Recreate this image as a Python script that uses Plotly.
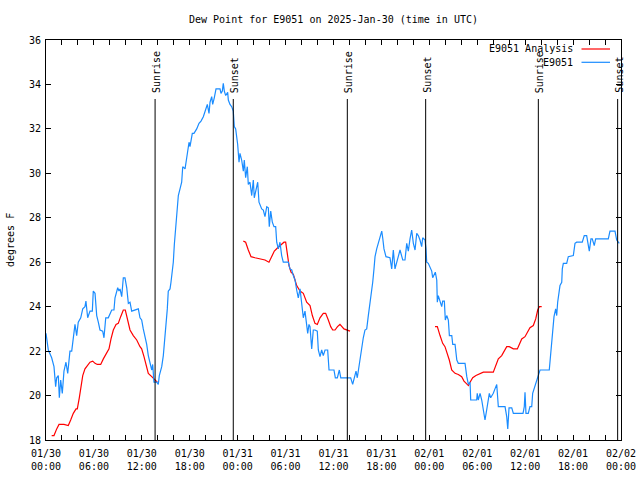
import pandas as pd
import plotly.graph_objects as go

BASE = "2025-01-30 00:00"

# Station observations (hours since 2025-01-30 00:00 UTC, dew point degF)
obs_hours = [0.0, 0.29, 0.71, 1.0, 1.21, 1.34, 1.54, 1.67, 1.84, 2.04, 2.25, 2.5, 2.72, 3.0, 3.22,
             3.42, 3.63, 3.84, 4.04, 4.35, 4.6, 4.88, 5.0, 5.22, 5.51, 5.8, 5.92, 6.14, 6.35, 6.55,
             6.76, 7.1, 7.26, 7.48, 7.8, 8.23, 8.51, 8.64, 8.77, 8.98, 9.14, 9.27, 9.48, 9.68, 9.89,
             10.11, 10.31, 10.52, 10.73, 11.14, 11.56, 11.77, 11.98, 12.18, 12.4, 12.61, 12.81,
             13.02, 13.24, 13.36, 13.52, 13.86, 14.06, 14.19, 14.49, 14.69, 14.9, 15.03, 15.19,
             15.31, 15.53, 15.65, 15.82, 15.94, 16.07, 16.24, 16.44, 16.57, 16.78, 16.99, 17.12,
             17.41, 17.62, 17.82, 17.91, 18.03, 18.32, 18.53, 18.87, 19.16, 19.41, 19.7, 20.0,
             20.2, 20.41, 20.54, 20.75, 20.87, 21.07, 21.29, 21.58, 21.79, 21.91, 22.08, 22.2,
             22.33, 22.5, 22.75, 22.83, 23.04, 23.25, 23.45, 23.58, 23.75, 24.0, 24.17, 24.29,
             24.5, 24.71, 24.83, 25.0, 25.21, 25.33, 25.54, 25.76, 25.96, 26.08, 26.3, 26.51,
             26.67, 27.01, 27.21, 27.42, 27.64, 27.84, 27.96, 28.14, 28.34, 28.55, 28.76, 28.89,
             29.09, 29.3, 29.51, 29.71, 30.14, 30.34, 30.55, 30.77, 30.97, 31.18, 31.39, 31.59,
             31.81, 32.02, 32.22, 32.43, 32.56, 32.77, 32.93, 33.06, 33.27, 33.47, 33.68, 33.97,
             34.1, 34.31, 34.52, 34.72, 34.94, 35.27, 35.44, 36.06, 36.23, 36.48, 36.73, 36.91,
             37.65, 38.15, 38.4, 38.57, 38.82, 38.98, 39.23, 39.41, 39.53, 39.73, 39.94, 40.16,
             40.36, 40.57, 40.78, 40.91, 41.07, 41.2, 41.41, 41.61, 41.82, 42.04, 42.16, 42.32,
             42.57, 42.86, 43.07, 43.29, 43.49, 43.7, 43.92, 44.11, 44.33, 44.67, 44.95, 45.17,
             45.37, 45.58, 45.79, 46.0, 46.21, 46.42, 46.62, 46.83, 47.04, 47.17, 47.46, 47.58,
             47.67, 47.87, 48.08, 48.3, 48.42, 48.62, 48.75, 48.93, 49.0, 49.12, 49.34, 49.55,
             49.67, 49.88, 50.0, 50.18, 50.38, 50.51, 50.81, 50.93, 51.22, 51.44, 51.63, 52.47,
             52.69, 52.89, 53.1, 53.18, 53.93, 54.0, 54.13, 54.35, 54.56, 54.76, 54.97, 55.18,
             55.38, 55.51, 55.68, 56.01, 56.22, 56.44, 56.64, 57.48, 57.69, 57.82, 57.98, 58.32,
             58.52, 59.73, 59.89, 59.98, 60.1, 60.39, 60.6, 60.82, 60.94, 61.23, 61.44, 61.65,
             61.86, 63.02, 63.2, 63.4, 63.61, 63.82, 63.95, 64.07, 64.24, 64.36, 64.58, 64.65,
             64.78, 65.2, 65.4, 66.03, 66.24, 66.45, 67.15, 67.4, 67.7, 67.86, 68.03, 68.24,
             68.4, 68.65, 68.83, 70.41, 70.62, 71.25, 71.46, 71.79]
obs_dewpt = [22.8, 22.05, 21.7, 21.3, 20.4, 20.8, 20.9, 19.9, 20.7, 20.1, 21.1, 21.5, 21.0, 22.0, 22.0,
             22.6, 23.2, 22.7, 23.3, 23.5, 23.9, 24.0, 24.25, 23.5, 23.8, 23.8, 24.7, 24.6, 23.6, 23.3,
             22.95, 22.9, 22.6, 23.5, 23.5, 23.85, 23.85, 24.4, 24.6, 24.85, 24.7, 24.8, 24.45, 25.3, 25.3,
             24.85, 24.15, 24.2, 23.8, 23.85, 23.9, 23.5, 23.4, 23.0, 22.65, 22.3, 21.8,
             21.5, 21.15, 21.4, 20.6, 20.6, 20.5, 20.9, 21.3, 21.8, 22.6, 23.05, 23.9,
             24.7, 24.8, 25.1, 25.7, 26.0, 26.8, 27.6, 28.6, 29.0, 29.3, 29.6, 30.3,
             30.2, 30.7, 31.3, 31.4, 31.2, 31.8, 31.8, 32.0, 32.25, 32.35, 32.55, 32.85,
             33.1, 32.7, 33.2, 33.45, 33.1, 33.4, 33.8, 33.8, 33.8, 33.6, 33.7, 34.05,
             33.7, 33.5, 33.65, 33.3, 33.1, 33.0, 32.8, 32.1, 32.0, 31.3, 30.5, 30.9,
             30.6, 30.1, 30.6, 29.8, 30.3, 29.5, 29.6, 29.0, 29.7, 28.9, 29.3, 29.6,
             28.7, 28.4, 28.35, 28.05, 28.5, 28.45, 27.6, 28.3, 27.8, 27.6, 27.6, 26.9,
             26.6, 26.9, 26.3, 26.0, 26.0, 26.0, 25.7, 25.65, 25.4, 25.2, 24.75, 24.4,
             24.8, 24.2, 23.5, 23.8, 23.3, 22.8, 23.2, 23.1, 22.1, 22.95, 22.95, 22.9,
             22.05, 21.75, 22.05, 21.8, 22.05, 22.05, 21.15, 21.15, 20.8, 20.8, 21.15, 20.8,
             20.8, 20.8, 20.5, 20.8, 21.1, 20.8, 21.45, 21.9, 22.2, 22.6, 22.95, 23.0,
             23.6, 24.1, 24.7, 25.1, 25.7, 26.25, 26.6, 26.85, 27.2, 27.4, 27.1, 26.6,
             26.25, 26.2, 26.2, 25.7, 26.55, 25.7, 26.0, 26.25, 26.55, 26.1, 26.1, 26.85,
             26.5, 27.05, 27.45, 26.85, 26.55, 27.3, 27.2, 27.0, 26.7, 27.1, 27.0, 26.6,
             26.0, 25.95, 25.8, 25.6, 25.3, 25.5, 25.55, 25.2, 24.2, 24.5, 24.25, 24.0,
             24.25, 24.25, 23.4, 23.6, 23.4, 22.7, 22.7, 22.3, 22.3, 21.6, 21.45, 21.45,
             20.85, 20.5, 20.6, 19.8, 19.8, 20.1, 19.8, 20.1, 19.8, 19.4, 18.9, 19.35,
             19.8, 20.1, 19.9, 20.1, 20.3, 20.5, 19.5, 19.5, 19.05, 18.5, 19.45, 19.45,
             19.2, 19.2, 19.5, 20.15, 19.2, 19.2, 19.5, 19.5, 20.1, 20.4, 20.7, 20.85,
             21.15, 21.15, 21.9, 22.65, 23.55, 23.9, 23.6, 24.2, 24.7, 24.95, 25.1, 25.7,
             25.95, 25.95, 26.25, 26.3, 26.85, 26.9, 26.9, 27.2, 27.2, 26.9, 26.5, 27.05,
             27.05, 26.75, 27.05, 27.05, 27.4, 27.4, 27.0, 26.85]

# Analysis (three separate runs)
ana1_hours = [0.71, 1.0, 1.34, 1.63, 2.25, 2.79, 3.09, 3.42, 3.76, 3.92, 4.17, 4.35, 4.6, 4.88, 5.22,
              5.51, 5.85, 6.14, 6.42, 6.85, 7.18, 7.6, 7.89, 8.14, 8.43, 8.77, 9.05, 9.35, 9.68,
              9.93, 10.18, 10.52, 10.93, 11.36, 11.77, 11.98, 12.27, 12.52, 12.81, 13.24, 13.65, 13.94]
ana1_dewpt = [18.2, 18.2, 18.5, 18.7, 18.7, 18.65, 18.9, 19.2, 19.4, 19.4, 19.9, 20.3, 20.9, 21.2, 21.35,
              21.5, 21.55, 21.45, 21.4, 21.4, 21.65, 21.95, 22.1, 22.55, 22.95, 23.2, 23.25, 23.55, 23.85,
              23.85, 23.5, 22.95, 22.7, 22.5, 22.2, 22.1, 21.75, 21.35, 21.0, 20.85, 20.7, 20.6]
ana2_hours = [24.71, 25.0, 25.33, 25.67, 26.17, 26.8, 27.42, 27.92, 28.26, 28.59, 29.01, 29.43, 29.8,
              30.01, 30.22, 30.43, 30.68, 30.97, 31.18, 31.39, 31.81, 32.22, 32.64, 33.06, 33.35,
              33.68, 33.97, 34.31, 34.72, 35.02, 35.35, 35.65, 35.9, 36.19, 36.5, 36.81, 37.31, 37.69, 38.07]
ana2_dewpt = [26.95, 26.9, 26.55, 26.25, 26.2, 26.15, 26.1, 26.0, 26.25, 26.5, 26.65, 26.8, 26.9,
              26.9, 26.3, 25.85, 25.55, 25.45, 25.2, 24.95, 24.7, 24.6, 24.2, 24.05, 23.6,
              23.25, 23.2, 23.5, 23.7, 23.7, 23.4, 23.1, 22.95, 22.95, 23.1, 23.2, 23.0, 22.95, 22.9]
ana3_hours = [48.71, 49.0, 49.34, 49.67, 49.96, 50.25, 50.5, 50.8, 51.22, 51.63, 52.05, 52.34, 52.69,
              52.89, 53.1, 53.43, 53.84, 54.35, 54.76, 56.01, 56.31, 56.64, 57.06, 57.35, 57.69,
              58.01, 58.52, 59.02, 59.27, 59.57, 59.98, 60.32, 60.6, 61.02, 61.32, 61.57, 61.77, 62.07]
ana3_dewpt = [23.1, 23.1, 22.7, 22.35, 22.2, 21.9, 21.6, 21.15, 21.0, 20.95, 20.85, 20.65, 20.5,
              20.45, 20.6, 20.8, 20.9, 21.0, 21.05, 21.05, 21.3, 21.65, 21.8, 22.0, 22.2,
              22.2, 22.1, 22.1, 22.3, 22.55, 22.65, 22.9, 23.05, 23.15, 23.45, 23.85, 24.0, 24.0]

# Sun events
event_hours = [13.66, 23.45, 37.73, 47.54, 61.65, 71.58]
event_labels = ["Sunrise", "Sunset", "Sunrise", "Sunset", "Sunrise", "Sunset"]

# Axis ticks
xtick_hours = list(range(0, 73, 2))
xtick_labels = ["01/30<br>00:00", "", "", "01/30<br>06:00", "", "", "01/30<br>12:00", "", "",
                "01/30<br>18:00", "", "", "01/31<br>00:00", "", "", "01/31<br>06:00", "", "",
                "01/31<br>12:00", "", "", "01/31<br>18:00", "", "", "02/01<br>00:00", "", "",
                "02/01<br>06:00", "", "", "02/01<br>12:00", "", "", "02/01<br>18:00", "", "",
                "02/02<br>00:00"]
ytick_vals = [18, 20, 22, 24, 26, 28, 30, 32, 34, 36]

base = pd.Timestamp(BASE)
def to_time(hours):
    return [None if h is None else base + pd.Timedelta(hours=h) for h in hours]

ana_hours = ana1_hours + [None] + ana2_hours + [None] + ana3_hours
ana_dewpt = ana1_dewpt + [None] + ana2_dewpt + [None] + ana3_dewpt

FONT = "DejaVu Sans Mono"
RED = "#ff0000"
BLUE = "#1a8cff"

fig = go.Figure()
fig.add_trace(go.Scatter(x=to_time(ana_hours), y=ana_dewpt, mode="lines", name="E9051 Analysis",
                         line=dict(color=RED, width=1.2), connectgaps=False))
fig.add_trace(go.Scatter(x=to_time(obs_hours), y=obs_dewpt, mode="lines", name="E9051",
                         line=dict(color=BLUE, width=1.2)))

L, R, T, B = 46, 19, 40, 40
W, H = 640, 480
pw, ph = W - L - R, H - T - B
def px_x(p):
    return (p - L) / pw
def px_y(p):
    return (H - B - p) / ph

shapes = []
annotations = []
for h, lab in zip(event_hours, event_labels):
    t = base + pd.Timedelta(hours=h)
    shapes.append(dict(type="line", xref="x", yref="paper", x0=t, x1=t, y0=0, y1=px_y(99),
                       line=dict(color="black", width=1)))
    annotations.append(dict(x=t, y=px_y(95), xref="x", yref="paper", text=lab, showarrow=False,
                            textangle=-90, xanchor="center", yanchor="bottom", xshift=2,
                            font=dict(family=FONT, size=10, color="black")))

# legend (gnuplot style: text then line sample)
for i, (name, col) in enumerate([("E9051 Analysis", RED), ("E9051", BLUE)]):
    yy = px_y(49 + 13.3 * i)
    annotations.append(dict(x=px_x(575), y=yy, xref="paper", yref="paper", text=name, showarrow=False,
                            xanchor="right", yanchor="middle",
                            font=dict(family=FONT, size=10, color="black")))
    shapes.append(dict(type="line", xref="paper", yref="paper", x0=px_x(581.5), x1=px_x(610),
                       y0=yy, y1=yy, line=dict(color=col, width=1.2)))

annotations.append(dict(x=px_x(10), y=0.5, xref="paper", yref="paper", text="degrees F",
                        showarrow=False, textangle=-90, xanchor="center", yanchor="middle",
                        font=dict(family=FONT, size=10, color="black")))

fig.update_layout(
    width=W, height=H,
    margin=dict(l=L, r=R, t=T, b=B, autoexpand=False),
    paper_bgcolor="white", plot_bgcolor="white",
    showlegend=False,
    title=dict(text="Dew Point for E9051 on 2025-Jan-30 (time in UTC)", x=0.5, xref="paper",
               y=1 - 19 / H, yref="container", xanchor="center", yanchor="middle",
               font=dict(family=FONT, size=10, color="black")),
    shapes=shapes, annotations=annotations,
    font=dict(family=FONT, size=10, color="black"),
)
fig.update_xaxes(type="date", range=[base, base + pd.Timedelta(hours=72)],
                 tickvals=to_time(xtick_hours), ticktext=xtick_labels,
                 ticks="inside", ticklen=5, tickcolor="black", tickwidth=1,
                 showline=True, linecolor="black", linewidth=1, mirror="ticks",
                 showgrid=False, zeroline=False, automargin=False, ticklabelstandoff=4,
                 tickfont=dict(family=FONT, size=10, color="black"))
fig.update_yaxes(range=[18, 36], tickvals=ytick_vals, ticktext=[str(v) for v in ytick_vals],
                 ticks="inside", ticklen=5, tickcolor="black", tickwidth=1,
                 showline=True, linecolor="black", linewidth=1, mirror="ticks",
                 showgrid=False, zeroline=False, automargin=False, ticklabelstandoff=2,
                 tickfont=dict(family=FONT, size=10, color="black"))

fig.write_html("out.html", config={"displayModeBar": False},
               post_script="document.body.style.margin='0';")
